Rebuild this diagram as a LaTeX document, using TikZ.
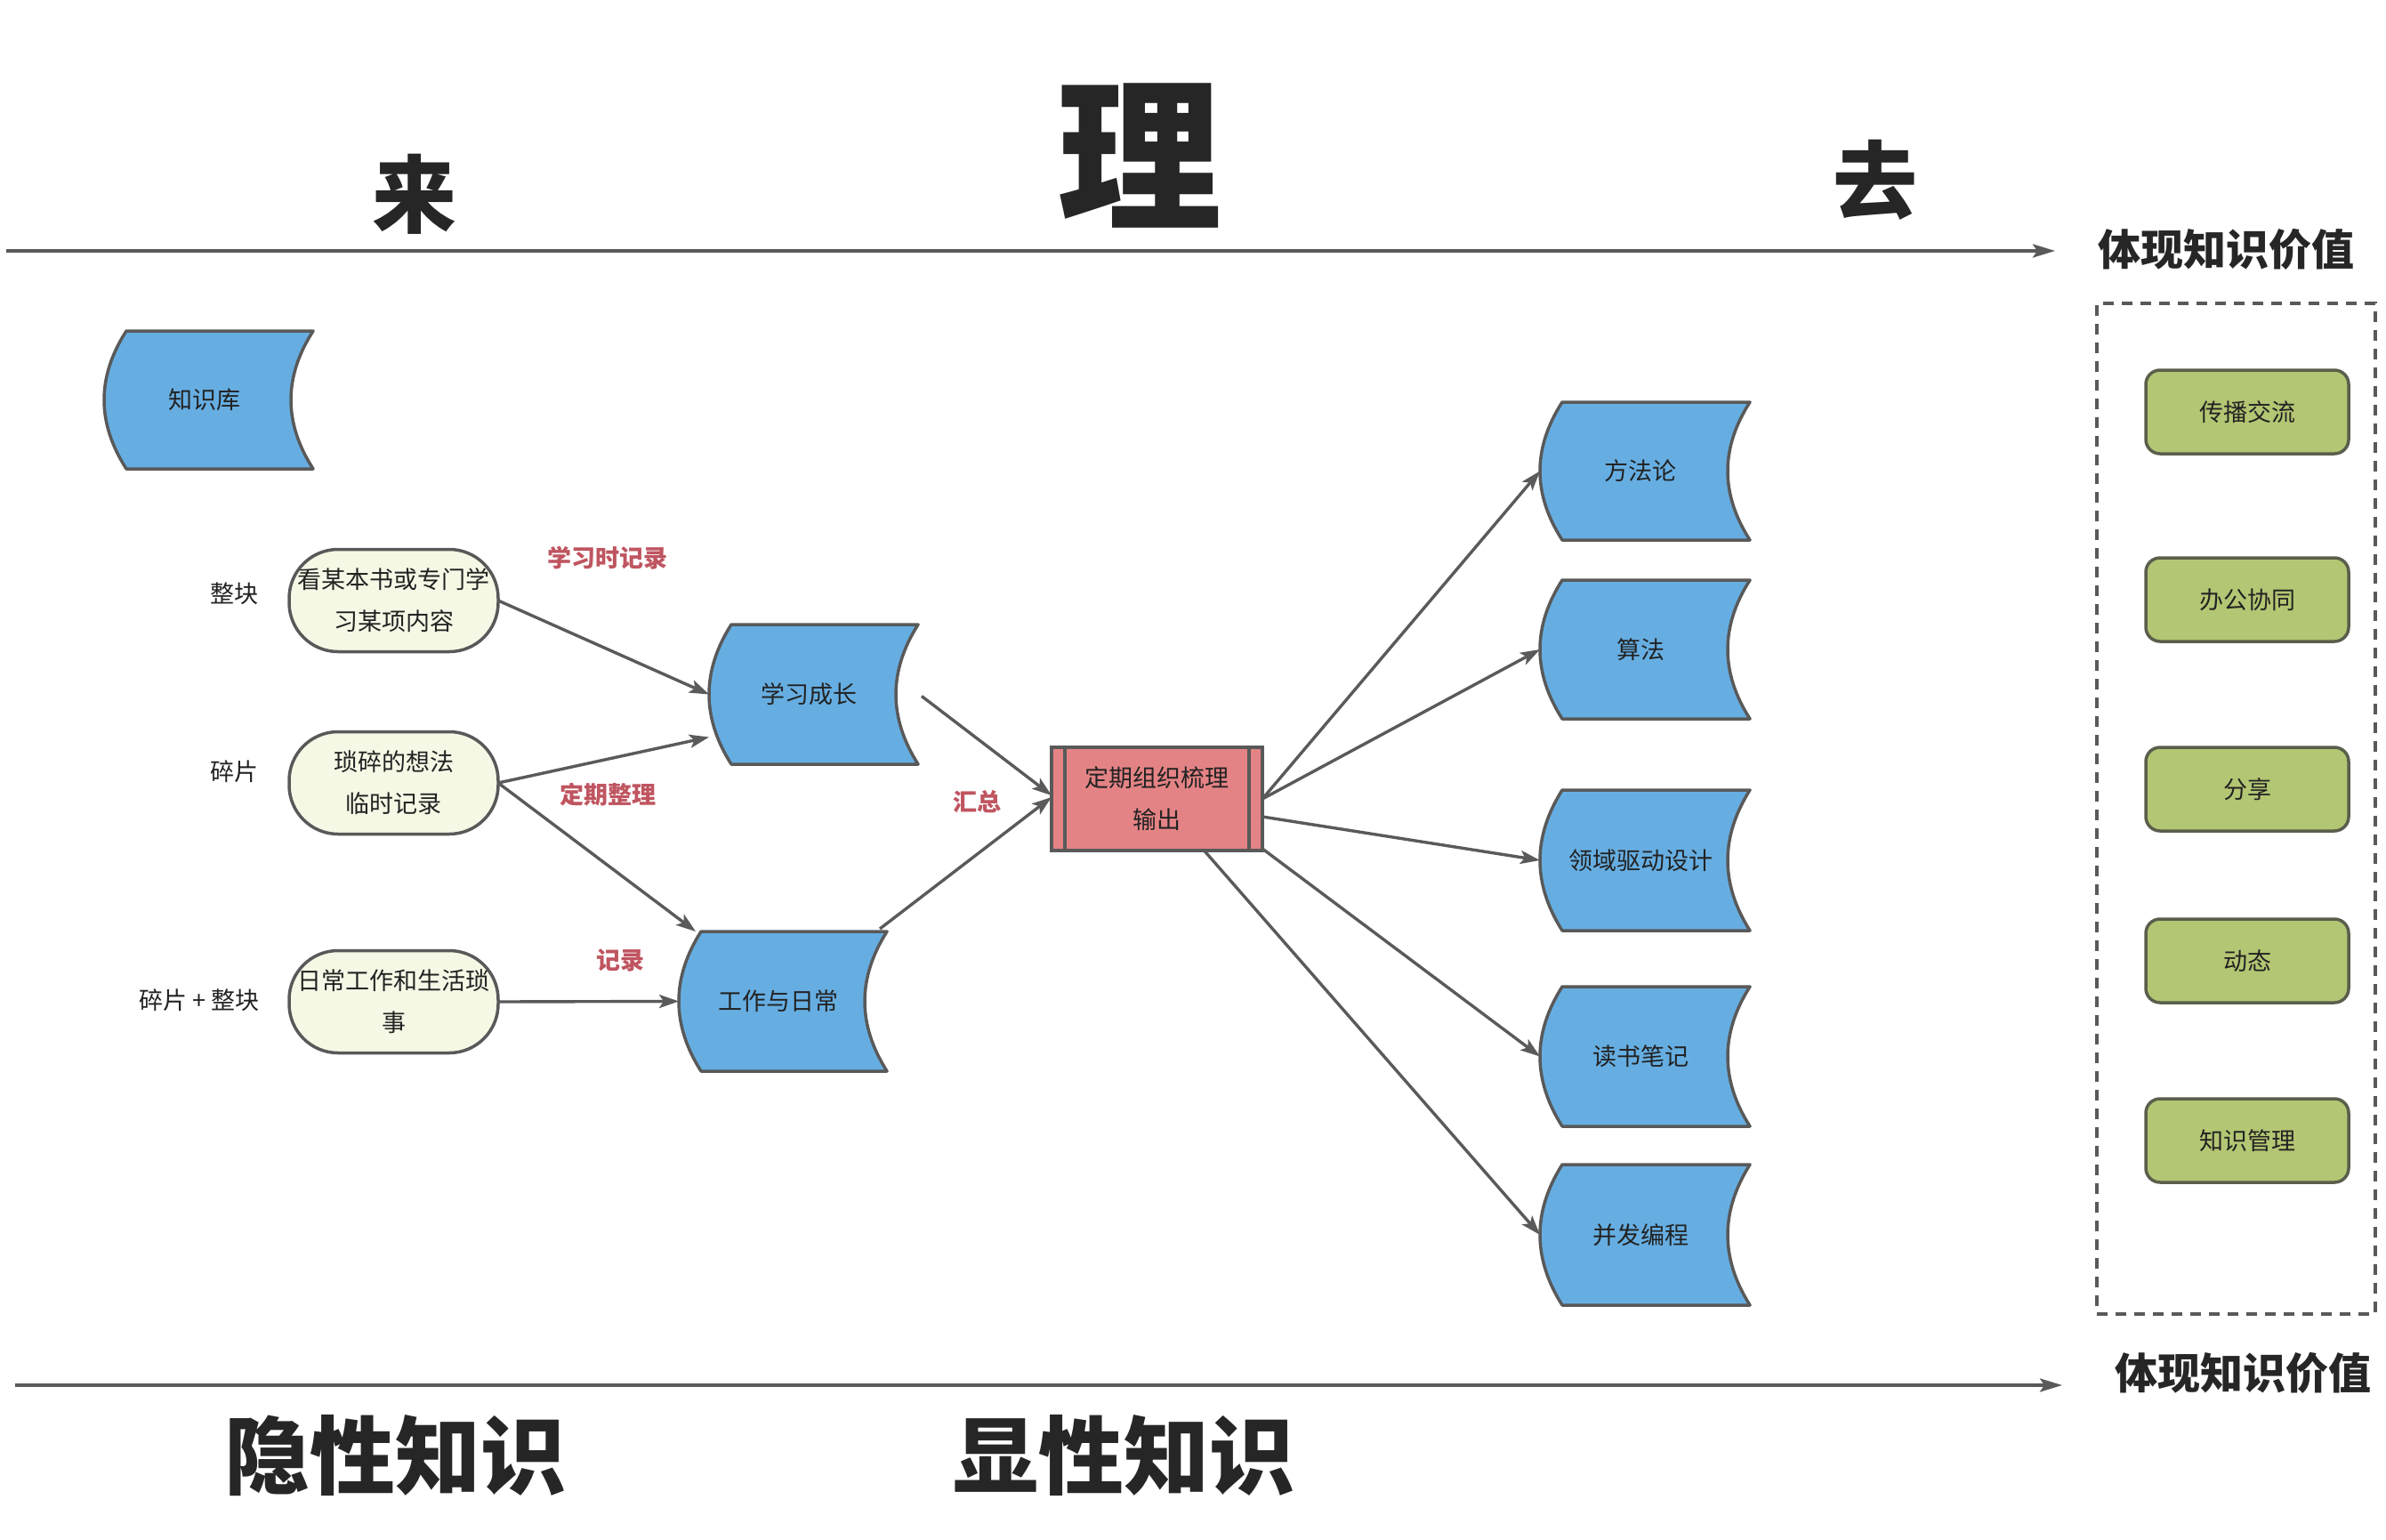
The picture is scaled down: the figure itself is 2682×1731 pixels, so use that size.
\documentclass[tikz,border=0pt]{standalone}
\usepackage{fontspec}
\setmainfont{Noto Sans CJK SC}
\usetikzlibrary{arrows.meta,calc}
\definecolor{edgegray}{HTML}{5A5A5A}
\definecolor{shapeline}{HTML}{595959}
\definecolor{blueF}{HTML}{66AEE2}
\definecolor{cream}{HTML}{F5F8E5}
\definecolor{redF}{HTML}{E48385}
\definecolor{greenF}{HTML}{B3C673}
\definecolor{greenline}{HTML}{5A5E4C}
\definecolor{redtxt}{HTML}{BF5560}
\definecolor{txt}{HTML}{222222}
\definecolor{head}{HTML}{262626}
\newcommand\lblfont{\fontsize{27}{47}\selectfont}
\newcommand\dstore[6]{%
  \draw[storeline] ({#2+25},#3) -- (#4,#3)
    .. controls ({#4-33.3},{#3+(#5-#3)/3}) and ({#4-33.3},{#5-(#5-#3)/3}) .. (#4,#5)
    -- ({#2+25},#5)
    .. controls ({#2-8.33},{#5-(#5-#3)/3}) and ({#2-8.33},{#3+(#5-#3)/3}) .. cycle;
  \node[storetext, minimum width={#4-#2}, minimum height={#5-#3}] (#1) at ({(#2+#4)/2},{(#3+#5)/2}) {#6\hspace*{10pt}};
}
\begin{document}
\begin{tikzpicture}[x=1pt,y=-1pt,
  storeline/.style={draw=shapeline, fill=blueF, line width=3.5pt, line join=round},
  storetext/.style={inner sep=0pt, outer sep=0pt, font=\lblfont, text=txt},
  pill/.style={draw=shapeline, fill=cream, line width=3.5pt, rounded corners=55pt,
    minimum width=235pt, minimum height=115pt, inner sep=0pt, outer sep=0pt,
    align=center, font=\lblfont, text=txt},
  greenbox/.style={draw=greenline, fill=greenF, line width=3.5pt, rounded corners=16pt,
    minimum width=228pt, minimum height=94pt, inner sep=0pt, outer sep=0pt,
    font=\lblfont, text=txt},
  procbox/.style={draw=shapeline, fill=redF, line width=3.5pt, minimum width=237pt,
    minimum height=116pt, inner sep=0pt, outer sep=0pt, align=center, font=\lblfont, text=txt},
  plain/.style={font=\lblfont, text=txt, inner sep=0pt},
  redlbl/.style={font=\lblfont\bfseries, text=redtxt, inner sep=0pt},
  bigtxt/.style={text=head, inner sep=0pt},
  dbox/.style={draw=shapeline, line width=4pt, dash pattern=on 12pt off 9pt},
  conn/.style={draw=edgegray, line width=3.4pt, -{Stealth[length=22pt,width=15pt,inset=5pt]}},
  axis/.style={draw=edgegray, line width=3.6pt, -{Stealth[length=25pt,width=15pt,inset=5pt]}}
]
\useasboundingbox (0,0) rectangle (2682,1731);

% headings
\node[bigtxt, font=\fontsize{95}{95}\selectfont\bfseries] (lai) at (466,218) {来};
\node[bigtxt, font=\fontsize{185}{185}\selectfont\bfseries] (li) at (1281,175) {理};
\node[bigtxt, font=\fontsize{95}{95}\selectfont\bfseries] (qu) at (2108,202) {去};
\node[bigtxt, font=\fontsize{48}{48}\selectfont\bfseries] (val1) at (2502,280) {体现知识价值};
\node[bigtxt, font=\fontsize{48}{48}\selectfont\bfseries] (val2) at (2521,1543) {体现知识价值};
\node[bigtxt, font=\fontsize{96}{96}\selectfont\bfseries] (yin) at (444,1636) {隐性知识};
\node[bigtxt, font=\fontsize{96}{96}\selectfont\bfseries] (xian) at (1263,1636) {显性知识};

% axes
\coordinate (t0) at (7,282);
\coordinate (t1) at (2310,282);
\coordinate (b0) at (17,1557);
\coordinate (b1) at (2318,1557);
\draw[axis] (t0) -- (t1);
\draw[axis] (b0) -- (b1);

% data stores
\dstore{zsk}{117}{372}{352}{527}{知识库}
\dstore{xx}{797}{702}{1032}{859}{学习成长}
\dstore{gz}{763}{1047}{997}{1204}{工作与日常}
\dstore{ff}{1731}{452}{1967}{607}{方法论}
\dstore{sf}{1731}{652}{1967}{808}{算法}
\dstore{ly}{1731}{888}{1967}{1046}{领域驱动设计}
\dstore{ds}{1731}{1109}{1967}{1266}{读书笔记}
\dstore{bf}{1731}{1309}{1967}{1467}{并发编程}

% pills
\node[pill] (e1) at (442.5,675) {看某本书或专门学\\习某项内容};
\node[pill] (e2) at (442.5,880) {琐碎的想法\\临时记录};
\node[pill] (e3) at (442.5,1126) {日常工作和生活琐\\事};

% left labels
\node[plain] (l1) at (263,667) {整块};
\node[plain] (l2) at (263,867) {碎片};
\node[plain] (l3) at (224,1124) {碎片 + 整块};

% process box
\node[procbox] (red) at (1300.5,898) {定期组织梳理\\输出};
\draw[draw=shapeline, line width=3.5pt] ($(red.north west)+(15,0)$) -- ($(red.south west)+(15,0)$);
\draw[draw=shapeline, line width=3.5pt] ($(red.north east)+(-15,0)$) -- ($(red.south east)+(-15,0)$);

% red labels
\node[redlbl] (r1) at (683,627) {学习时记录};
\node[redlbl] (r2) at (683,893) {定期整理};
\node[redlbl] (r3) at (697,1079) {记录};
\node[redlbl] (r4) at (1098,901) {汇总};

% value box
\node[dbox, minimum width=313pt, minimum height=1136pt, inner sep=0pt] (vbox) at (2513.5,909) {};
\node[greenbox] (g1) at (2526,463) {传播交流};
\node[greenbox] (g2) at (2526,674) {办公协同};
\node[greenbox] (g3) at (2526,887) {分享};
\node[greenbox] (g4) at (2526,1080) {动态};
\node[greenbox] (g5) at (2526,1282) {知识管理};

% connectors
\draw[conn] (e1.east) -- (xx.west);
\draw[conn] (e2.east) -- ($(xx.west)+(0,48)$);
\draw[conn] (e2.east) -- ($(gz.north west)+(19,0)$);
\draw[conn] (e3.east) -- (gz.west);
\draw[conn] ($(xx.east)+(4,2)$) -- ($(red.west)+(0,-4)$);
\draw[conn] ($(gz.north east)+(-8,-3)$) -- ($(red.west)+(0,-2)$);
\draw[conn] (red.east) -- (ff.west);
\draw[conn] (red.east) -- (sf.west);
\draw[conn] ($(red.east)+(0,20)$) -- (ly.west);
\draw[conn] ($(red.south east)+(0,-2)$) -- (ds.west);
\draw[conn] ($(red.south)+(53,0)$) -- (bf.west);
\end{tikzpicture}
\end{document}
